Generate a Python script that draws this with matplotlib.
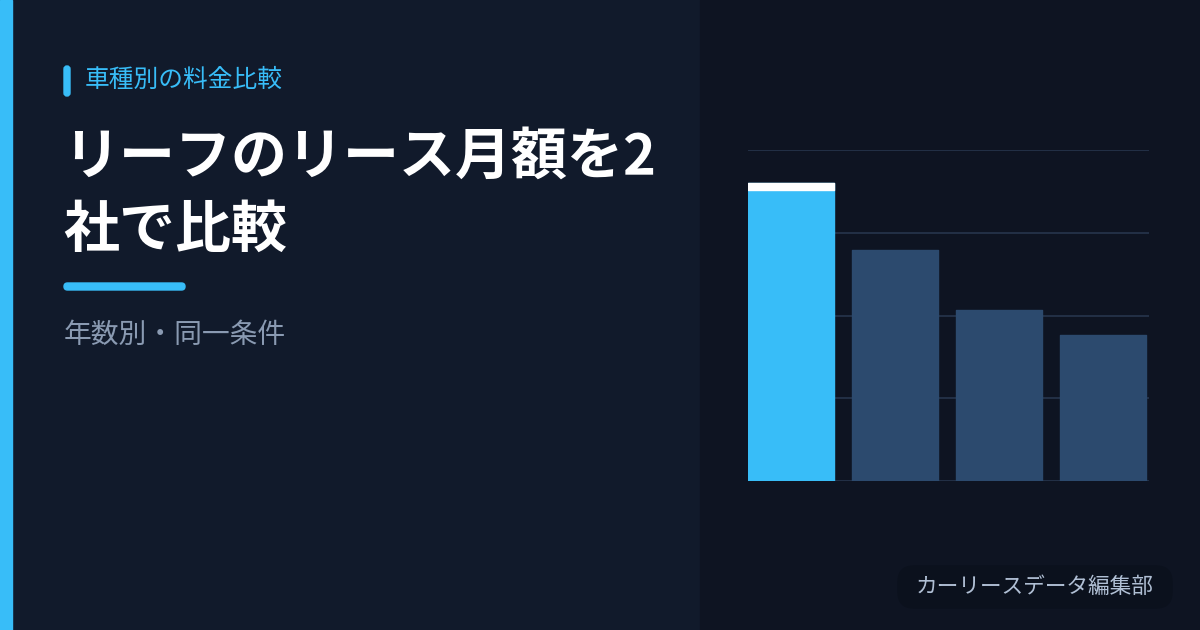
#!/usr/bin/env python3

import matplotlib
matplotlib.use("Agg")
import matplotlib.pyplot as plt
from matplotlib.patches import FancyBboxPatch, Rectangle

plt.rcParams['font.family'] = ['Noto Sans CJK JP', 'DejaVu Sans']

# data
categories = ["1", "2", "3", "4"]
monthly = [36000, 27900, 20700, 17600]
highlight = [True, False, False, False]
grid_ticks = [0, 10000, 20000, 30000, 40000]

kicker = "車種別の料金比較"
title_lines = ["リーフのリース月額を2", "社で比較"]
subtitle = "年数別・同一条件"
badge = "カーリースデータ編集部"

W, H, DPI = 1200, 630, 100
BG_LEFT = "#111a2b"
BG_RIGHT = "#0e1422"
ACCENT = "#38bdf8"
BAR_DARK = "#2c4a6e"
GRID = "#27364e"


def px(v):
    # pixel size -> points
    return v * 72 / DPI


fig = plt.figure(figsize=(W / DPI, H / DPI), dpi=DPI)
fig.patch.set_facecolor(BG_LEFT)

# background layer in pixel coords
bg = fig.add_axes([0, 0, 1, 1])
bg.set_xlim(0, W)
bg.set_ylim(H, 0)
bg.axis("off")
bg.add_patch(Rectangle((700, 0), 500, H, color=BG_RIGHT, zorder=0))
bg.add_patch(Rectangle((0, 0), 12, H, color=ACCENT, zorder=1))

# kicker pill + text
bg.add_patch(FancyBboxPatch((64, 66), 6, 30, boxstyle="round,pad=0,rounding_size=3",
                            color=ACCENT, zorder=2))
bg.text(85, 80, kicker, color=ACCENT, fontsize=px(24.7), va="center", ha="left")

# title
for i, line in enumerate(title_lines):
    bg.text(63, 158 + i * 73, line, color="white", fontsize=px(56),
            fontweight="bold", va="center", ha="left")

# underline
bg.add_patch(FancyBboxPatch((64, 283), 121, 7, boxstyle="round,pad=0,rounding_size=3.5",
                            color=ACCENT, zorder=2))

bg.text(64, 335, subtitle, color="#8a9ab2", fontsize=px(27.8), va="center", ha="left")

# badge
bg.add_patch(FancyBboxPatch((898, 566), 274, 42, boxstyle="round,pad=0,rounding_size=16",
                            color="#0b111d", zorder=2))
bg.text(1035, 587, badge, color="#b0bfd4", fontsize=px(21.7), va="center", ha="center",
        zorder=3)

# bar chart
ax = fig.add_axes([748 / W, (H - 481) / H, (1149 - 748) / W, (481 - 150) / H])
ax.patch.set_alpha(0)
ax.set_axisbelow(True)
x = list(range(len(categories)))
colors = [ACCENT if h else BAR_DARK for h in highlight]
bars = ax.bar(x, monthly, width=0.83, color=colors, edgecolor=colors,
              linewidth=1.0, joinstyle="round", align="edge")
# white cap on highlighted bar
cap = 6.5 * (grid_ticks[-1] / 330)
for b, v, h in zip(bars, monthly, highlight):
    if h:
        ax.bar(b.get_x(), cap, width=b.get_width(), bottom=v - cap, align="edge",
               color="white", edgecolor="white", linewidth=1.0, joinstyle="round")

ax.set_xlim(0, 3.855)
ax.set_ylim(grid_ticks[0], grid_ticks[-1])
ax.set_yticks(grid_ticks)
ax.yaxis.grid(True, color=GRID, linewidth=px(1.6))
ax.tick_params(left=False, bottom=False, labelleft=False, labelbottom=False)
for s in ax.spines.values():
    s.set_visible(False)

fig.savefig("out.png", dpi=DPI, facecolor=fig.get_facecolor())
